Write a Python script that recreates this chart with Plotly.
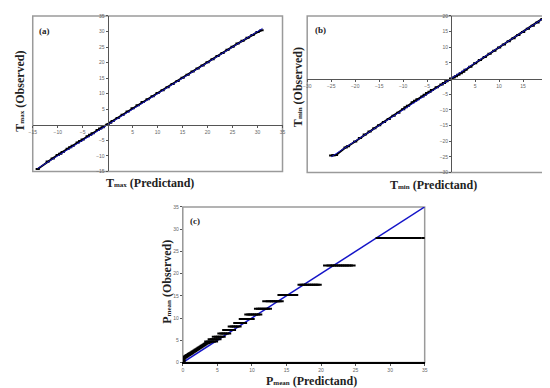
import plotly.graph_objects as go

W, H = 550, 388

# ---------------- data ----------------
# (a) Tmax
tmax_pred = [-14, -12, -11, -10, -9.5, -9, -8, -7.5, -7, -6, -5.5, -5, -4, -3.5, -3, -2, -1.5, -1,
             0, 0.5, 1, 2, 3, 4, 5, 6, 7, 8, 9, 10, 11, 12, 13, 14, 15, 16, 17, 18, 19, 20,
             21, 22, 23, 24, 25, 26, 27, 28, 29, 30, 30.8]
tmax_obs = [-14.2, -11.8, -10.8, -9.7, -9.3, -8.7, -7.7, -7.2, -6.7, -5.7, -5.2, -4.7, -3.7, -3.2, -2.7,
            -1.7, -1.2, -0.8, 0.1, 0.7, 1.2, 2.2, 3.2, 4.3, 5.3, 6.3, 7.3, 8.2, 9.2, 10.2, 11.1, 12.1,
            13.1, 14.1, 15.1, 16.1, 17.1, 18.1, 19.1, 20.1, 21.1, 22.1, 23.1, 24.1, 25.1, 26.1,
            27.0, 28.0, 28.9, 29.8, 30.4]
tmax_line = [-14, 31]

# (b) Tmin
tmin_pred = [-25, -24.5, -24, -22, -21.5, -20, -19, -18, -17, -16, -15, -14, -13, -12, -11, -10,
             -9.5, -9, -8, -7.5, -7, -6, -5.5, -5, -4.5, -4, -3, -2, -1.5, -1, -0.5, 0, 0.5, 1,
             1.5, 2, 2.5, 3, 4, 5, 6, 7, 8, 9, 10, 11, 12, 13, 14, 15, 16, 17, 18, 19, 19.5]
tmin_obs = [-24.6, -24.5, -24.4, -22.0, -21.6, -20.1, -19.0, -17.9, -16.9, -15.9, -14.9, -13.9, -12.9,
            -11.9, -10.9, -9.8, -9.2, -8.7, -7.6, -7.1, -6.6, -5.7, -5.2, -4.6, -4.2, -3.7, -2.8,
            -1.9, -1.4, -0.9, -0.5, 0.0, 0.3, 0.7, 1.2, 1.7, 2.2, 2.8, 3.8, 4.9, 5.9, 6.9, 7.9,
            8.9, 9.9, 10.9, 11.9, 12.9, 13.9, 14.9, 15.9, 16.9, 17.9, 18.9, 19.6]
tmin_line = [-25, 20]

# (c) Pmean: observed levels and the predictand values found on each level
pmean_levels = [28.0, 21.8, 17.5, 15.2, 13.8, 12.1, 10.8, 9.8, 8.9, 8.1, 7.3, 6.5, 5.8, 5.2, 4.7]
pmean_pred_by_level = [
    [28.3, 28.8, 29.4, 29.8, 30.2, 30.6, 31.0, 31.4, 31.8, 32.2, 32.6, 33.0, 33.6, 34.1, 34.9],
    [20.7, 21.2, 21.5, 21.8, 22.1, 22.4, 22.7, 23.0, 23.3, 23.6, 23.9, 24.2, 24.6],
    [17.0, 17.3, 17.6, 17.9, 18.2, 18.5, 18.8, 19.1, 19.4, 19.7],
    [14.1, 14.5, 14.8, 15.1, 15.4, 15.7, 16.0, 16.3],
    [11.9, 12.4, 12.7, 13.0, 13.3, 13.6, 13.9, 14.2],
    [10.7, 11.0, 11.3, 11.6, 11.9, 12.2, 12.5],
    [9.3, 9.6, 9.9, 10.2, 10.5, 10.8, 11.1],
    [8.5, 8.8, 9.1, 9.4, 9.7, 10.0],
    [7.7, 8.0, 8.3, 8.6, 8.9],
    [6.9, 7.2, 7.5, 7.8, 8.1],
    [6.1, 6.4, 6.7, 7.0, 7.3],
    [5.4, 5.7, 6.0, 6.3, 6.6],
    [4.6, 4.9, 5.2, 5.5, 5.8],
    [4.0, 4.3, 4.6, 4.9, 5.2],
    [3.5, 3.8, 4.1, 4.4, 4.7],
]
pmean_band_pred = [0, 0, 0, 0, 0.1, 0.2, 0.3, 0.4, 0.5, 0.6, 0.7, 0.8, 0.9, 1.0, 1.1, 1.2, 1.35, 1.5, 1.65,
                   1.8, 1.95, 2.1, 2.25, 2.4, 2.55, 2.7, 2.85, 3.0, 3.15, 3.3, 3.45, 3.6, 3.75, 3.9]
pmean_band_obs = [0.2, 0.5, 0.8, 1.1, 1.0, 1.1, 1.2, 1.3, 1.4, 1.5, 1.6, 1.7, 1.8, 1.9, 2.0, 2.1, 2.25, 2.4,
                  2.55, 2.7, 2.85, 3.0, 3.15, 3.3, 3.45, 3.6, 3.75, 3.9, 4.05, 4.2, 4.3, 4.4, 4.5, 4.6]
pmean_line = [0, 35]

pmean_pred = list(pmean_band_pred)
pmean_obs = list(pmean_band_obs)
for lvl, xs in zip(pmean_levels, pmean_pred_by_level):
    pmean_pred += xs
    pmean_obs += [lvl] * len(xs)

ticks_a = [-15, -10, -5, 5, 10, 15, 20, 25, 30, 35]
ticks_b = [-30, -25, -20, -15, -10, -5, 5, 10, 15, 20]
ticks_c = [0, 5, 10, 15, 20, 25, 30, 35]

# ---------------- layout helpers ----------------
def px_x(p):
    return p / W

def px_y(p):
    return 1 - p / H

# panel boxes in pixels (left, right, top, bottom)
A = (21, 274, 5, 163)
B = (299, 542, 5, 164)
C = (173, 418, 199, 357)

def zero_pos(box, rng, axis):
    lo, hi = rng
    if axis == "x":
        l, r = box[0], box[1]
        return px_x(l + (0 - lo) / (hi - lo) * (r - l))
    t, b = box[2], box[3]
    return px_y(b - (0 - lo) / (hi - lo) * (b - t))

BLUE = "#1414c8"
tickfont = dict(family="Liberation Sans", size=5, color="#666")

fig = go.Figure()

mk = dict(symbol="line-ew", size=3, line=dict(color="black", width=2))
mk_c = dict(symbol="line-ew", size=4, line=dict(color="black", width=2))

fig.add_trace(go.Scatter(x=tmax_pred, y=tmax_obs, mode="lines+markers", marker=mk,
                         line=dict(color="black", width=2), xaxis="x", yaxis="y"))
fig.add_trace(go.Scatter(x=tmax_line, y=tmax_line, mode="lines", line=dict(color=BLUE, width=1), xaxis="x", yaxis="y"))
fig.add_trace(go.Scatter(x=tmin_pred, y=tmin_obs, mode="lines+markers", marker=mk,
                         line=dict(color="black", width=2), xaxis="x2", yaxis="y2"))
fig.add_trace(go.Scatter(x=tmin_line, y=tmin_line, mode="lines", line=dict(color=BLUE, width=1), xaxis="x2", yaxis="y2"))
fig.add_trace(go.Scatter(x=pmean_line, y=pmean_line, mode="lines", line=dict(color=BLUE, width=1.5), xaxis="x3", yaxis="y3"))
fig.add_trace(go.Scatter(x=pmean_pred, y=pmean_obs, mode="markers", marker=mk_c, xaxis="x3", yaxis="y3"))

common = dict(showgrid=False, zeroline=False, showline=True, linecolor="#555", linewidth=1,
              ticks="outside", ticklen=2, tickwidth=1, tickcolor="#555", tickfont=tickfont, fixedrange=True)

rng_a = [-15, 35]
rng_b = [-30, 20]
rng_c = [0, 35]

fig.update_layout(
    width=W, height=H, margin=dict(l=0, r=0, t=0, b=0),
    paper_bgcolor="white", plot_bgcolor="white", showlegend=False,
    xaxis=dict(domain=[px_x(A[0]), px_x(A[1])], range=rng_a, anchor="free",
               position=zero_pos(A, rng_a, "y"), tickvals=ticks_a, **common),
    yaxis=dict(domain=[px_y(A[3]), px_y(A[2])], range=rng_a, anchor="free",
               position=zero_pos(A, rng_a, "x"), tickvals=ticks_a, **common),
    xaxis2=dict(domain=[px_x(B[0]), px_x(B[1])], range=rng_b, anchor="free",
                position=zero_pos(B, rng_b, "y"), tickvals=ticks_b, **common),
    yaxis2=dict(domain=[px_y(B[3]), px_y(B[2])], range=rng_b, anchor="free",
                position=zero_pos(B, rng_b, "x"), tickvals=ticks_b, **common),
    xaxis3=dict(domain=[px_x(C[0]), px_x(C[1])], range=rng_c, anchor="y3", tickvals=ticks_c,
                **{**common, "linecolor": "black", "linewidth": 2}),
    yaxis3=dict(domain=[px_y(C[3]), px_y(C[2])], range=rng_c, anchor="x3", tickvals=ticks_c,
                **{**common, "linecolor": "#999"}),
)

for xr, yr in [("x", "y"), ("x2", "y2"), ("x3", "y3")]:
    fig.add_shape(type="rect", xref=f"{xr} domain", yref=f"{yr} domain", x0=0, x1=1, y0=0, y1=1,
                  line=dict(color="#9a9a9a", width=1.5), layer="below")

def sub(base, s, rest):
    return f"<b>{base}<span style='font-size:7px'>{s}</span> {rest}</b>"

annots = [
    ("(a)", 33, 20, 0, 9),
    ("(b)", 312, 19, 0, 9),
    ("(c)", 185, 213, 0, 9),
    (sub("T", "max", "(Predictand)"), 140, 175, 0, 12),
    (sub("T", "max", "(Observed)"), 8, 81, -90, 12),
    (sub("T", "min", "(Predictand)"), 427, 177, 0, 12),
    (sub("T", "min", "(Observed)"), 289, 77, -90, 12),
    (sub("P", "mean", "(Predictand)"), 303, 376, 0, 12),
    (sub("P", "mean", "(Observed)"), 157, 275, -90, 12),
]
for text, x, y, ang, size in annots:
    t = text if text.startswith("<b>") else f"<b>{text}</b>"
    fig.add_annotation(text=t, x=px_x(x), y=px_y(y), xref="paper", yref="paper",
                       showarrow=False, textangle=ang, xanchor="center", yanchor="middle",
                       font=dict(family="Liberation Serif", size=size, color="#222"))

fig.write_html("out.html")
